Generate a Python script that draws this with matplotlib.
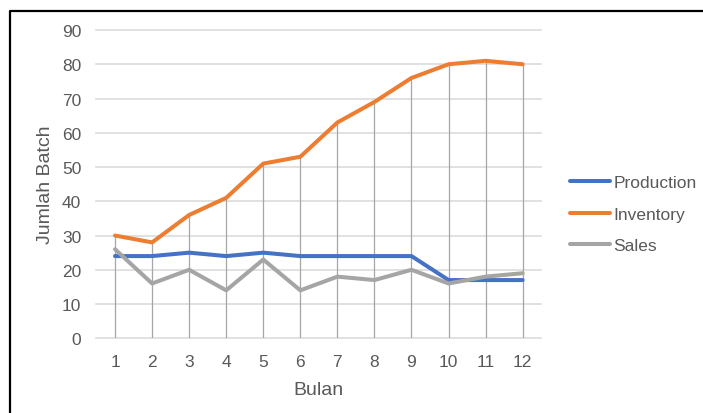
import matplotlib
matplotlib.use("Agg")
import matplotlib.pyplot as plt
from matplotlib.lines import Line2D

months = [1, 2, 3, 4, 5, 6, 7, 8, 9, 10, 11, 12]
production = [24, 24, 25, 24, 25, 24, 24, 24, 24, 17, 17, 17]
inventory = [30, 28, 36, 41, 51, 53, 63, 69, 76, 80, 81, 80]
sales = [26, 16, 20, 14, 23, 14, 18, 17, 20, 16, 18, 19]
y_ticks = [0, 10, 20, 30, 40, 50, 60, 70, 80, 90]

text_color = "#595959"
plt.rcParams["font.family"] = ["Liberation Sans", "DejaVu Sans"]

W, H = 703, 414
fig = plt.figure(figsize=(W / 100, H / 100), dpi=100)
ax = fig.add_axes([96.5 / W, 1 - 339.3 / H, (541.2 - 96.5) / W, (339.3 - 31) / H])

x = list(range(len(months)))

# horizontal gridlines
for t in y_ticks:
    ax.axhline(t, color="#d9d9d9", lw=1.1, zorder=0, clip_on=False)

# drop lines from the highest series down to the axis
tops = [max(p, i, s) for p, i, s in zip(production, inventory, sales)]
ax.vlines(x, 0, tops, color="#a6a6a6", lw=0.9, zorder=1)

ax.plot(x, production, color="#4472C4", lw=2.9, label="Production", zorder=3,
        solid_capstyle="round")
ax.plot(x, inventory, color="#ED7D31", lw=2.9, label="Inventory", zorder=3,
        solid_capstyle="round")
ax.plot(x, sales, color="#A5A5A5", lw=2.9, label="Sales", zorder=3,
        solid_capstyle="round")

ax.set_xlim(-0.5, len(months) - 0.5)
ax.set_ylim(0, 90)
ax.set_xticks(x)
ax.set_xticklabels([str(m) for m in months])
ax.set_yticks(y_ticks)
ax.tick_params(length=0, labelsize=12.5, labelcolor=text_color)
ax.tick_params(axis="y", pad=11)
ax.tick_params(axis="x", pad=11.5)
for s in ax.spines.values():
    s.set_visible(False)

fig.text(45.5 / W, 1 - 185.2 / H, "Jumlah Batch", rotation=90, ha="center",
         va="center", fontsize=14, color=text_color)
fig.text(318.9 / W, 1 - 395 / H, "Bulan", ha="center", va="baseline",
         fontsize=14, color=text_color)

leg = fig.legend(loc="center left", bbox_to_anchor=(570 / W, 1 - 215 / H),
                 frameon=False, fontsize=12.5, handlelength=2.3,
                 handletextpad=0.2, labelspacing=0.95, borderpad=0,
                 borderaxespad=0)
for t in leg.get_texts():
    t.set_color(text_color)

# outer frame (left and top edges)
fig.add_artist(Line2D([10 / W, 10 / W, 1], [0, 1 - 12 / H, 1 - 12 / H],
                      transform=fig.transFigure, color="black", lw=1.6))

fig.savefig("out.png", dpi=100)
